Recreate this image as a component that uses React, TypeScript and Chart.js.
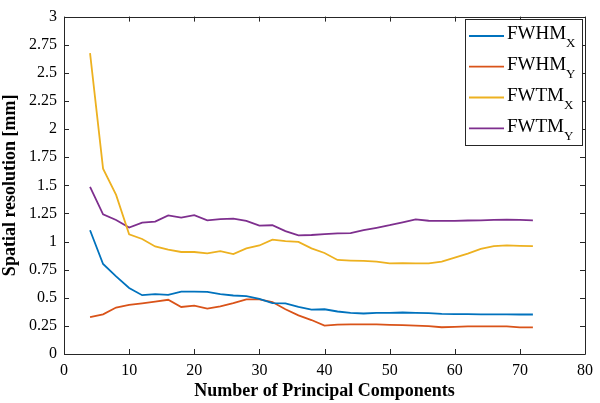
import React, { useEffect, useRef } from "react";
import { Chart, registerables } from "chart.js";

Chart.register(...registerables);

const components = [4, 6, 8, 10, 12, 14, 16, 18, 20, 22, 24, 26, 28, 30, 32, 34, 36, 38, 40, 42, 44, 46, 48, 50, 52, 54, 56, 58, 60, 62, 64, 66, 68, 70, 72];

const fwhmX = [1.10, 0.80, 0.69, 0.587, 0.523, 0.532, 0.526, 0.555, 0.555, 0.552, 0.532, 0.520, 0.514, 0.491, 0.453, 0.451, 0.418, 0.395, 0.398, 0.378, 0.366, 0.360, 0.366, 0.366, 0.369, 0.366, 0.363, 0.357, 0.355, 0.354, 0.352, 0.352, 0.352, 0.351, 0.351];
const fwhmY = [0.328, 0.352, 0.413, 0.436, 0.450, 0.465, 0.482, 0.418, 0.430, 0.404, 0.424, 0.453, 0.485, 0.485, 0.462, 0.398, 0.343, 0.302, 0.253, 0.262, 0.264, 0.264, 0.264, 0.259, 0.256, 0.253, 0.247, 0.238, 0.242, 0.245, 0.246, 0.246, 0.246, 0.237, 0.236];
const fwtmX = [2.675, 1.648, 1.415, 1.064, 1.023, 0.956, 0.927, 0.907, 0.907, 0.895, 0.915, 0.889, 0.939, 0.965, 1.017, 1.003, 0.997, 0.939, 0.898, 0.836, 0.831, 0.828, 0.822, 0.805, 0.808, 0.805, 0.805, 0.822, 0.857, 0.893, 0.934, 0.960, 0.965, 0.962, 0.959];
const fwtmY = [1.485, 1.241, 1.192, 1.125, 1.168, 1.177, 1.232, 1.212, 1.235, 1.189, 1.200, 1.203, 1.183, 1.142, 1.145, 1.093, 1.055, 1.058, 1.066, 1.072, 1.075, 1.101, 1.122, 1.145, 1.171, 1.197, 1.185, 1.183, 1.183, 1.187, 1.189, 1.192, 1.194, 1.192, 1.189];

const seriesNames = ["FWHM", "FWHM", "FWTM", "FWTM"];
const seriesSubs = ["X", "Y", "X", "Y"];
const seriesColors = ["#0072BD", "#D95319", "#EDB120", "#7E2F8E"];

const xTicks = [0, 10, 20, 30, 40, 50, 60, 70, 80];
const yTicks = [0, 0.25, 0.5, 0.75, 1, 1.25, 1.5, 1.75, 2, 2.25, 2.5, 2.75, 3];

const xTitle = "Number of Principal Components";
const yTitle = "Spatial resolution [mm]";

const AXIS = "#262626";
const FONT = "'Liberation Serif', 'Times New Roman', serif";

const boxPlugin = {
  id: "matlabBox",
  afterDraw(chart: any) {
    const { ctx, chartArea } = chart;
    const { left, right, top, bottom } = chartArea;
    const xs = chart.scales.x;
    const ys = chart.scales.y;
    ctx.save();
    ctx.strokeStyle = AXIS;
    ctx.lineWidth = 1;
    ctx.beginPath();
    ctx.rect(Math.round(left) + 0.5, Math.round(top) + 0.5, Math.round(right - left), Math.round(bottom - top));
    ctx.stroke();
    const tl = 5;
    ctx.beginPath();
    xTicks.forEach((v) => {
      const px = Math.round(xs.getPixelForValue(v)) + 0.5;
      ctx.moveTo(px, bottom);
      ctx.lineTo(px, bottom - tl);
      ctx.moveTo(px, top);
      ctx.lineTo(px, top + tl);
    });
    yTicks.forEach((v) => {
      const py = Math.round(ys.getPixelForValue(v)) + 0.5;
      ctx.moveTo(left, py);
      ctx.lineTo(left + tl, py);
      ctx.moveTo(right, py);
      ctx.lineTo(right - tl, py);
    });
    ctx.stroke();

    // legend
    const bx = 465, by = 19, bw = 117, bh = 126;
    ctx.fillStyle = "#ffffff";
    ctx.fillRect(bx, by, bw, bh);
    ctx.strokeStyle = AXIS;
    ctx.strokeRect(bx + 0.5, by + 0.5, bw, bh);
    const rowY = [36, 66.7, 97.5, 128.3];
    seriesNames.forEach((name, i) => {
      const y = rowY[i];
      ctx.strokeStyle = seriesColors[i];
      ctx.lineWidth = 1.8;
      ctx.beginPath();
      ctx.moveTo(469, y);
      ctx.lineTo(504, y);
      ctx.stroke();
      ctx.fillStyle = "#000000";
      ctx.textAlign = "left";
      ctx.textBaseline = "alphabetic";
      ctx.font = `19px ${FONT}`;
      ctx.fillText(name, 507, y + 3.3);
      const w = ctx.measureText(name).width;
      ctx.font = `13px ${FONT}`;
      ctx.fillText(seriesSubs[i], 507 + w, y + 11.3);
    });
    ctx.restore();
  },
};

export default function App() {
  const ref = useRef<HTMLCanvasElement | null>(null);
  useEffect(() => {
    if (!ref.current) return;
    const datasets = [fwhmX, fwhmY, fwtmX, fwtmY].map((arr, i) => ({
      label: seriesNames[i] + seriesSubs[i],
      data: components.map((c, j) => ({ x: c, y: arr[j] })),
      borderColor: seriesColors[i],
      backgroundColor: seriesColors[i],
      borderWidth: 1.8,
      pointRadius: 0,
      tension: 0,
      fill: false,
    }));
    const chart = new Chart(ref.current, {
      type: "line",
      data: { datasets },
      options: {
        responsive: false,
        animation: false,
        events: [],
        layout: { padding: { top: 10, right: 10, bottom: 0, left: 0 } },
        plugins: { legend: { display: false }, tooltip: { enabled: false } },
        scales: {
          x: {
            type: "linear",
            min: 0,
            max: 80,
            afterBuildTicks: (s: any) => {
              s.ticks = xTicks.map((v) => ({ value: v }));
            },
            afterFit: (s: any) => {
              s.height = 49;
            },
            grid: { display: false, drawTicks: false },
            border: { display: false },
            ticks: {
              color: "#000",
              padding: 7,
              maxRotation: 0,
              font: { family: FONT, size: 16 },
              callback: (v: any) => String(v),
            },
            title: {
              display: true,
              text: xTitle,
              color: "#000",
              padding: { top: 0, bottom: 1 },
              font: { family: FONT, size: 18, weight: "bold" },
            },
          },
          y: {
            type: "linear",
            min: 0,
            max: 3,
            afterBuildTicks: (s: any) => {
              s.ticks = yTicks.map((v) => ({ value: v }));
            },
            afterFit: (s: any) => {
              s.width = 64;
            },
            grid: { display: false, drawTicks: false },
            border: { display: false },
            ticks: {
              color: "#000",
              padding: 7,
              font: { family: FONT, size: 16 },
              callback: (v: any) => String(v),
            },
            title: {
              display: true,
              text: yTitle,
              color: "#000",
              padding: { top: 0, bottom: 0 },
              font: { family: FONT, size: 18, weight: "bold" },
            },
          },
        },
      },
      plugins: [boxPlugin],
    } as any);
    return () => chart.destroy();
  }, []);
  return (
    <div style={{ position: "fixed", left: 0, top: 0, width: 600, height: 403, background: "#fff" }}>
      <canvas ref={ref} width={600} height={403} style={{ width: 600, height: 403, display: "block" }} />
    </div>
  );
}
